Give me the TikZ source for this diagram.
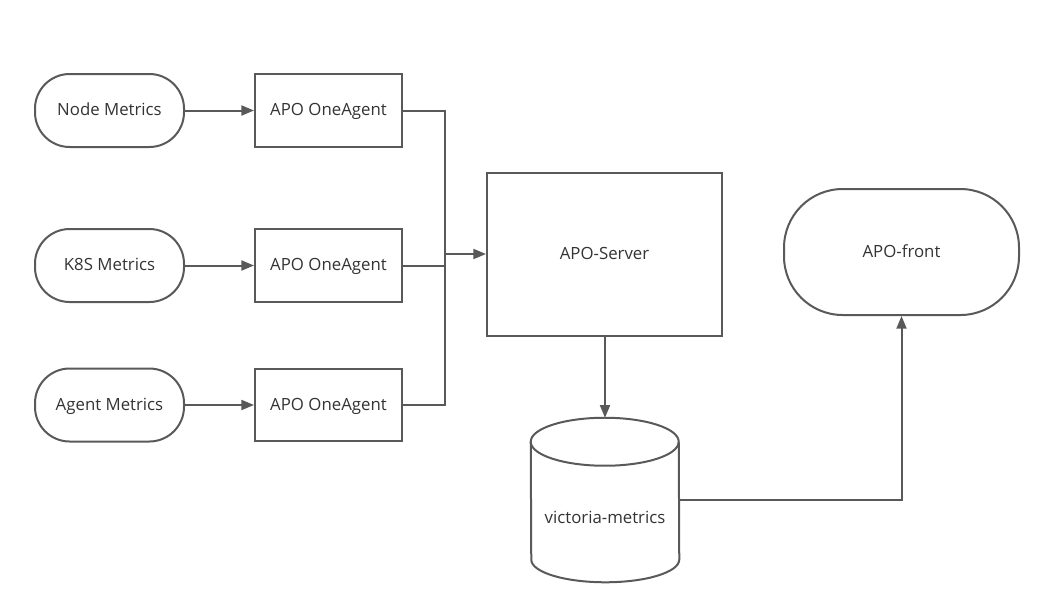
\documentclass[tikz,border=0pt]{standalone}
\usepackage{fontspec}
\setmainfont{Open Sans}
\usepackage{tikz}
\usetikzlibrary{arrows.meta,positioning}
\definecolor{ink}{HTML}{595959}
\definecolor{labelgray}{HTML}{333333}
\tikzset{
  flow diagram/.style={
    x=0.75pt, y=-0.75pt,
    font=\fontsize{12.6}{14}\selectfont,
    text=labelgray,
    line cap=butt,
    line join=miter
  },
  textbox/.style={text height=0.95em, text depth=0.2em},
  sourcepill/.style={
    textbox,
    draw=ink,
    line width=1.5pt,
    rounded corners=26pt,
    minimum width=111.75pt,
    minimum height=54.75pt,
    inner sep=2pt
  },
  agentbox/.style={
    textbox,
    draw=ink,
    line width=1.5pt,
    minimum width=110.25pt,
    minimum height=54.5pt,
    inner sep=2pt
  },
  serverbox/.style={
    textbox,
    draw=ink,
    line width=1.5pt,
    minimum width=176.25pt,
    minimum height=122.25pt
  },
  frontpill/.style={
    textbox,
    draw=ink,
    line width=1.5pt,
    rounded corners=44pt,
    minimum width=176.25pt,
    minimum height=94.5pt
  },
  dbshape/.style={
    minimum width=111pt,
    minimum height=123pt,
    inner sep=0pt
  },
  link/.style={draw=ink, line width=1.5pt},
  flowarrow/.style={link, -{Triangle[length=9.5pt,width=7.5pt]}}
}
\begin{document}
\begin{tikzpicture}[flow diagram]
\useasboundingbox (0,0) rectangle (1055,612);
% metric sources and agents
\node[sourcepill] (nodem) at (109.5,110.5) {Node Metrics};
\node[sourcepill] (k8sm) at (109.5,265.5) {K8S Metrics};
\node[sourcepill] (agentm) at (109.5,405) {Agent Metrics};
\node[agentbox, right=51.75pt of nodem] (agent1) {APO OneAgent};
\node[agentbox, right=51.75pt of k8sm] (agent2) {APO OneAgent};
\node[agentbox, right=51.75pt of agentm] (agent3) {APO OneAgent};
% server, storage, front end
\node[serverbox] (server) at (604.5,254) {APO-Server};
\node[frontpill] (front) at (901.5,252) {APO-front};
\node[dbshape] (db) at (605,500) {};
\node[textbox] (dbtext) at (605,518) {victoria-metrics};
\draw[link] ([yshift=-18pt]db.north west) arc[x radius=55.5pt, y radius=18pt, start angle=180, end angle=0]
  -- ([yshift=17pt]db.south east) arc[x radius=55.5pt, y radius=17pt, start angle=0, end angle=-180] -- cycle;
\draw[link] ([yshift=-18pt]db.north west) arc[x radius=55.5pt, y radius=18pt, start angle=180, end angle=360];
\coordinate (bus) at (445,254);
\draw[flowarrow] (nodem) -- (agent1);
\draw[flowarrow] (k8sm) -- (agent2);
\draw[flowarrow] (agentm) -- (agent3);
\draw[link] (agent1.east) -| (bus) |- (agent3.east);
\draw[link] (agent2.east) -- (agent2.east -| bus);
\draw[flowarrow] (bus) -- (bus -| server.west);
\draw[flowarrow] (server.south -| db.north) -- (db.north);
\draw[flowarrow] (db.east) -| (front.south);
\end{tikzpicture}
\end{document}
